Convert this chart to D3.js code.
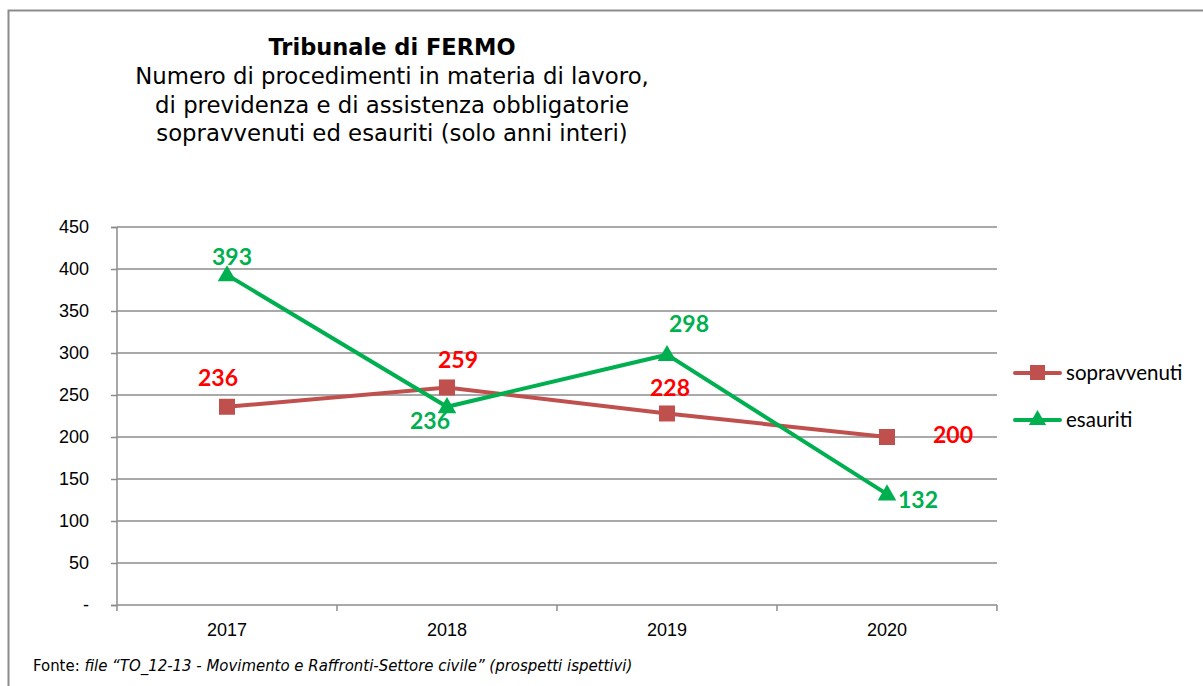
<!DOCTYPE html>
<html><head><meta charset="utf-8">
<script src="https://cdn.jsdelivr.net/npm/d3@7"></script>
<style>body{margin:0;background:#fff}svg{display:block}</style>
</head><body>
<svg id="c" width="1203" height="686"></svg>
<script>
const years = ["2017","2018","2019","2020"];
const sopravvenuti = [236, 259, 228, 200];
const esauriti = [393, 236, 298, 132];
const yTicks = [0,50,100,150,200,250,300,350,400,450];
const seriesNames = ["sopravvenuti","esauriti"];
const titleLines = ["Numero di procedimenti in materia di lavoro,","di previdenza e di assistenza obbligatorie","sopravvenuti ed esauriti (solo anni interi)"];

const svg = d3.select("#c");
// outer frame
svg.append("path").attr("d","M8.5,686 L8.5,10.5 L1203,10.5").attr("fill","none").attr("stroke","#8c8c8c").attr("stroke-width",2);

const x = d3.scaleBand().domain(years).range([117,997]);
const y = d3.scaleLinear().domain([0,450]).range([605,227]);

// gridlines
svg.append("g").selectAll("line").data(yTicks.filter(d=>d>0)).join("line")
  .attr("x1",117).attr("x2",997).attr("y1",d=>y(d)).attr("y2",d=>y(d))
  .attr("stroke","#8c8c8c").attr("stroke-width",1.5);

// y axis
const ya = svg.append("g").attr("transform","translate(117,0)")
  .call(d3.axisLeft(y).tickValues(yTicks).tickSize(6).tickPadding(22).tickFormat(d=>d===0?"-":d));
ya.select(".domain").attr("stroke","#8c8c8c").attr("stroke-width",1.5).attr("d","M-6,227.5H0V605.5H-6");
ya.selectAll(".tick line").attr("stroke","#8c8c8c").attr("stroke-width",1.5);
ya.selectAll("text").attr("font-family","Liberation Sans, Arial").attr("font-size",18).attr("fill","#000");

// x axis
const xa = svg.append("g").attr("transform","translate(0,605)");
xa.append("line").attr("x1",117).attr("x2",997).attr("y1",0).attr("y2",0).attr("stroke","#8c8c8c").attr("stroke-width",1.5);
const bounds = [117].concat(years.map(d=>x(d)+x.bandwidth()));
xa.selectAll("line.t").data(bounds).join("line").attr("class","t")
  .attr("x1",d=>d).attr("x2",d=>d).attr("y1",0).attr("y2",6).attr("stroke","#8c8c8c").attr("stroke-width",1.5);
xa.selectAll("text").data(years).join("text")
  .attr("x",d=>x(d)+x.bandwidth()/2).attr("y",31).attr("text-anchor","middle")
  .attr("font-family","Liberation Sans, Arial").attr("font-size",18).attr("fill","#000").text(d=>d);

const cx = d => x(d)+x.bandwidth()/2;
const line = d3.line().x((d,i)=>cx(years[i])).y(d=>y(d));

const cS = "#C0504D", cE = "#00B050";
svg.append("path").datum(sopravvenuti).attr("d",line).attr("fill","none").attr("stroke",cS).attr("stroke-width",4);
svg.append("g").selectAll("rect").data(sopravvenuti).join("rect")
  .attr("x",(d,i)=>cx(years[i])-8).attr("y",d=>y(d)-8).attr("width",16).attr("height",16).attr("fill",cS);

svg.append("path").datum(esauriti).attr("d",line).attr("fill","none").attr("stroke",cE).attr("stroke-width",4);
const tri = d3.symbol().type(d3.symbolTriangle).size(150);
svg.append("g").selectAll("path").data(esauriti).join("path")
  .attr("d",tri).attr("transform",(d,i)=>`translate(${cx(years[i])},${y(d)+1})`).attr("fill",cE);

// data labels (offsets of label centre relative to points)
const offS = [[-9,-29],[11,-27],[3,-25],[66,-2]];
const offE = [[5,-18],[-17,14],[22,-31],[31,6]];
const lblFont = "Lato, 'Open Sans', sans-serif";
svg.append("g").selectAll("text").data(sopravvenuti).join("text")
  .attr("x",(d,i)=>cx(years[i])+offS[i][0]).attr("y",(d,i)=>y(d)+offS[i][1]+8)
  .attr("text-anchor","middle").attr("font-family",lblFont).attr("font-weight","bold").attr("font-size",23)
  .attr("fill","#FF0000").text(d=>d);
svg.append("g").selectAll("text").data(esauriti).join("text")
  .attr("x",(d,i)=>cx(years[i])+offE[i][0]).attr("y",(d,i)=>y(d)+offE[i][1]+8)
  .attr("text-anchor","middle").attr("font-family",lblFont).attr("font-weight","bold").attr("font-size",23)
  .attr("fill",cE).text(d=>d);

// legend
const leg = svg.append("g");
const legY = [373, 420];
leg.selectAll("line").data(seriesNames).join("line")
  .attr("x1",1015).attr("x2",1060).attr("y1",(d,i)=>legY[i]).attr("y2",(d,i)=>legY[i])
  .attr("stroke",(d,i)=>i?cE:cS).attr("stroke-width",4).attr("stroke-linecap","round");
leg.append("rect").attr("x",1030).attr("y",legY[0]-8).attr("width",15).attr("height",15).attr("fill",cS);
leg.append("path").attr("d",d3.symbol().type(d3.symbolTriangle).size(130)).attr("transform",`translate(1037.5,${legY[1]})`).attr("fill",cE);
leg.selectAll("text").data(seriesNames).join("text")
  .attr("x",1066).attr("y",(d,i)=>legY[i]+7).attr("font-family",lblFont).attr("font-size",20.5).attr("fill","#000").text(d=>d);

// title
const tf = "DejaVu Sans, Verdana, sans-serif";
svg.append("text").attr("x",392).attr("y",55).attr("text-anchor","middle").attr("font-family",tf)
  .attr("font-weight","bold").attr("font-size",22.5).text("Tribunale di FERMO");
svg.append("g").selectAll("text").data(titleLines).join("text")
  .attr("x",392).attr("y",(d,i)=>84+i*28.5).attr("text-anchor","middle").attr("font-family",tf)
  .attr("font-size",22.8).text(d=>d);

// footer
const ft = svg.append("text").attr("x",33).attr("y",671).attr("font-family","'DejaVu Sans Condensed', 'DejaVu Sans', sans-serif").attr("font-size",16.6);
ft.append("tspan").text("Fonte: ");
ft.append("tspan").attr("font-style","italic").text("file \u201CTO_12-13 - Movimento e Raffronti-Settore civile\u201D (prospetti ispettivi)");
</script>
</body></html>
